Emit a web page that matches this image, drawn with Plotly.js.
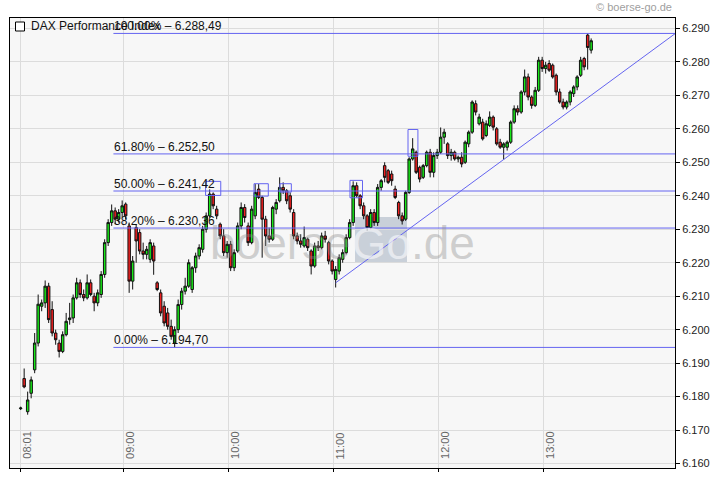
<!DOCTYPE html>
<html><head><meta charset="utf-8">
<script src="https://cdn.plot.ly/plotly-3.0.1.min.js"></script>
<style>html,body{margin:0;padding:0;background:#fff}#chart{width:720px;height:481px}</style>
</head><body><div id="chart"></div>
<script>
const day = '2010-10-04 ';
const times = [
'08:01','08:03','08:05','08:07','08:09','08:11','08:13','08:15','08:17','08:19','08:21','08:23','08:25','08:27','08:29','08:31','08:33','08:35','08:37','08:39','08:41','08:43','08:45','08:47','08:49','08:51','08:53','08:55','08:57','08:59',
'09:01','09:03','09:05','09:07','09:09','09:11','09:13','09:15','09:17','09:19','09:21','09:23','09:25','09:27','09:29','09:31','09:33','09:35','09:37','09:39','09:41','09:43','09:45','09:47','09:49','09:51','09:53','09:55','09:57','09:59',
'10:01','10:03','10:05','10:07','10:09','10:11','10:13','10:15','10:17','10:19','10:21','10:23','10:25','10:27','10:29','10:31','10:33','10:35','10:37','10:39','10:41','10:43','10:45','10:47','10:49','10:51','10:53','10:55','10:57','10:59',
'11:01','11:03','11:05','11:07','11:09','11:11','11:13','11:15','11:17','11:19','11:21','11:23','11:25','11:27','11:29','11:31','11:33','11:35','11:37','11:39','11:41','11:43','11:45','11:47','11:49','11:51','11:53','11:55','11:57','11:59',
'12:01','12:03','12:05','12:07','12:09','12:11','12:13','12:15','12:17','12:19','12:21','12:23','12:25','12:27','12:29','12:31','12:33','12:35','12:37','12:39','12:41','12:43','12:45','12:47','12:49','12:51','12:53','12:55','12:57','12:59',
'13:01','13:03','13:05','13:07','13:09','13:11','13:13','13:15','13:17','13:19','13:21','13:23','13:25','13:27'];
const open = [
6176.4,6185.4,6175.5,6181,6188,6196,6207,6208,6213,6206,6199,6196,6193.5,6198.5,6203,6203.5,6209.5,6214,6210.5,6209.5,6214,6210,6208,6210.5,6216.5,6226,6232,6235.5,6233,6235,
6237.5,6231,6214.5,6230.5,6229,6223.5,6222.5,6221,6225,6214,6211,6207,6205,6201,6196,6200,6207.5,6211.5,6213,6212,6218.5,6222,6224,6230,6234,6240.5,6236,6231.5,6228,6223,
6225.5,6218.5,6223.5,6231,6236.5,6231,6226,6234,6242,6239.5,6233,6228,6227,6236,6238.5,6242.5,6241.5,6240,6235,6228,6226.5,6225,6227,6223.5,6219,6225,6224.5,6228,6226,6220.5,
6215,6217.5,6221,6223,6227.5,6232,6243,6240,6237,6234,6230.5,6235,6232,6242.5,6249,6247.5,6246.5,6242,6238,6234,6233,6241,6251,6253,6248.5,6245.5,6249,6253,6247,6252,
6253,6257.5,6255.5,6252,6253,6251,6251.5,6250,6255.5,6259,6267.5,6261.5,6262,6258,6261,6263.5,6260,6256,6254.5,6254.5,6256,6262,6266,6265,6271,6275.5,6269.5,6267,6271.5,6280.5,
6278,6279.5,6279,6276,6271,6268,6266.5,6268,6270.5,6272.5,6276,6281,6288,6283.5];
const high = [
6177,6188.4,6181.5,6186,6199,6210.5,6209,6214.7,6214,6208.5,6200,6197,6199.5,6205,6208,6210.5,6215.5,6215,6212,6216.5,6215,6211,6212,6217.5,6227,6233,6237.4,6236.5,6236,6238.6,
6238,6232,6222,6231.5,6230,6226,6225,6227,6226,6214.5,6212,6208.5,6206.5,6203,6201,6209,6212.5,6215.5,6221,6219,6223,6225.5,6231,6235,6241.9,6241,6237,6232,6230,6226.5,
6226.5,6224,6232,6238,6237.5,6232,6237,6243.5,6243.5,6240,6234,6230.5,6237,6239,6245.5,6244,6242,6241,6236,6229,6228.5,6230.8,6227.5,6224,6226,6226.5,6229,6229.5,6226.5,6221,
6219,6222.5,6224,6228.5,6233,6244.3,6244,6240.5,6238,6234.5,6236,6236,6243.5,6245,6250,6248,6247.5,6243,6238.5,6235,6241.5,6251.5,6257.2,6253.5,6249,6249.5,6253.5,6254,6253,6254,
6260.4,6260,6256,6254,6253.5,6252,6253,6256.5,6259.5,6268.5,6268.5,6264.5,6263,6262.5,6265.2,6264,6260.5,6257,6256,6256.5,6262.5,6267,6267,6271.5,6277.7,6276.5,6270,6272.5,6281.5,6281.5,
6280,6280.5,6279.5,6276.5,6272,6269,6268.5,6271.5,6273,6276,6281.5,6281.5,6288.5,6287];
const low = [
6176,6182.5,6174.6,6179.5,6187,6195,6205.5,6206.5,6202,6198,6195.5,6191.7,6193,6198,6201.5,6202,6209,6209.5,6208.5,6209,6210,6205.5,6207,6209.5,6215.5,6225,6231,6231.5,6232,6233.5,
6233,6211,6212,6220,6222.5,6221,6221,6220,6216.4,6211.5,6204,6201,6200,6197,6194.7,6199,6206,6210.5,6212.5,6211,6217,6221,6223,6229,6233.5,6236,6233,6227,6222,6221.5,
6217.5,6217.5,6223,6230,6232,6225,6225.5,6233,6239,6221.5,6225,6226,6226.5,6234.5,6238,6240.5,6237.5,6235,6227,6225.5,6224.5,6224.5,6223.5,6216.5,6218.5,6223.5,6224,6226,6219.5,6216.5,
6212.6,6216.5,6220,6222.5,6227,6231,6239.5,6236,6233,6229.5,6230,6231,6231,6241.5,6244,6243.5,6243,6239,6233,6231.4,6232.5,6240.5,6250.5,6246.5,6244,6245,6248.5,6245.5,6245.5,6251,
6252.5,6255.5,6251,6250.5,6250.5,6250,6248.5,6249.5,6254.5,6258.5,6264,6261,6256.5,6257.5,6260.5,6259.5,6255,6254,6250.8,6253.5,6255.5,6261.5,6264,6264.5,6270,6268.5,6266,6266.5,6271,6277,
6276.5,6277,6275,6270,6267.5,6265.8,6265.8,6267,6269.5,6271.5,6275.5,6277.5,6277.7,6282.5];
const close = [
6176.6,6182.9,6179,6185,6196,6207.6,6208,6213,6203,6199,6197,6193.5,6198.5,6202.5,6203.5,6209.5,6214,6210.5,6209.5,6214,6210.5,6208,6211,6216.5,6226,6232,6235.5,6233,6235,6237,
6234,6214.5,6220.5,6226.5,6223.5,6222.5,6224,6226,6220.5,6212,6205,6202,6201,6198,6200,6207.5,6211.5,6213,6220,6218.5,6222,6224.5,6230,6234,6240.5,6237,6234,6228,6223,6225.5,
6218.5,6223,6231,6236.5,6233.5,6226,6236,6241,6239.5,6233,6228,6227,6236.5,6238,6242.5,6241.5,6238.5,6236,6228,6226.5,6225.5,6227.5,6224.5,6219,6225,6224.5,6228,6227,6220.5,6217.5,
6218,6221.5,6223,6227.5,6232,6243,6240,6237,6234,6230.5,6235,6232,6242.5,6244.5,6245.5,6244,6244.5,6239.5,6234,6232.5,6241,6251,6254,6247,6245,6249,6253,6247,6252,6253,
6257.5,6259,6252,6253,6251,6251.5,6249.5,6256,6259,6268,6265,6263.5,6257,6261.5,6263.5,6260.5,6255.5,6254.5,6255.5,6256,6262,6266,6265,6271,6275.5,6269.5,6267,6271.5,6280.5,6278,
6279,6277.5,6275.5,6271,6268,6266.5,6268,6271,6272.5,6275.5,6280.5,6278.5,6284.3,6286.3];

const tickTimes = ['08:01','09:00','10:00','11:00','12:00','13:00'];
const fibPct = ['100.00%','61.80%','50.00%','38.20%','0.00%'];
const fibVal = [6288.49, 6252.50, 6241.42, 6230.36, 6194.70];
const fibStart = '08:54';
const trendTime = ['11:01', '14:14:54'];
const trendVal = [6214.0, 6288.4];
const boxStart = ['09:46:40','10:14:20','10:29:10','11:09:10','11:42:20'];
const boxEnd   = ['09:55:20','10:22:30','10:35:40','11:16:20','11:48:00'];
const boxLow   = [6240.1, 6239.9, 6241.1, 6239.4, 6251.8];
const boxHigh  = [6244.3, 6243.6, 6243.6, 6244.6, 6259.8];

function deNum(v){ const p = v.toFixed(2).split('.'); return p[0].replace(/\B(?=(\d{3})+(?!\d))/g,'.') + ',' + p[1]; }

const X = t => day + t;
const xEnd = X('14:14:54');
const blue = '#6464f0';
const FONT = 'Liberation Sans, Arial, sans-serif';

const trace = {
  type:'candlestick',
  x: times.map(X), open: open, high: high, low: low, close: close,
  increasing:{line:{color:'#111', width:1}, fillcolor:'#18e818'},
  decreasing:{line:{color:'#111', width:1}, fillcolor:'#f02020'},
  whiskerwidth:0, hoverinfo:'skip'
};

const shapes = [];
const annotations = [];

// watermark box (below traces)
shapes.push({type:'rect', xref:'paper', yref:'paper', layer:'below',
  x0:(355-10)/665, x1:(407-10)/665, y0:(468-262)/450, y1:(468-217)/450,
  line:{width:0}, fillcolor:'#c9d0d9'});

fibVal.forEach((v,i)=>{
  shapes.push({type:'line', xref:'x', yref:'y', x0:X(fibStart), x1:xEnd, y0:v, y1:v, line:{color:blue, width:1}});
  annotations.push({xref:'x', yref:'y', x:X(fibStart), y:v, xanchor:'left', yanchor:'bottom', yshift:-2, xshift:-1,
    text: fibPct[i] + ' – ' + deNum(v), showarrow:false, font:{family:FONT, size:12, color:'#111'}});
});
shapes.push({type:'line', xref:'x', yref:'y', x0:X(trendTime[0]), x1:X(trendTime[1]), y0:trendVal[0], y1:trendVal[1], line:{color:blue, width:1}});
boxStart.forEach((s,i)=>{
  shapes.push({type:'rect', xref:'x', yref:'y', x0:X(s), x1:X(boxEnd[i]), y0:boxLow[i], y1:boxHigh[i], line:{color:blue, width:1}, fillcolor:'rgba(0,0,0,0)'});
});
// legend square
shapes.push({type:'rect', xref:'paper', yref:'paper', x0:(15.5-10)/665, x1:(24.5-10)/665, y0:(468-31)/450, y1:(468-22)/450, line:{color:'#000', width:1}, fillcolor:'#fff'});

annotations.push({xref:'paper', yref:'paper', x:(29-10)/665, y:(468-26.5)/450, xanchor:'left', yanchor:'middle', showarrow:false,
  text:'DAX Performance Index', font:{family:FONT, size:12, color:'#111'}});
annotations.push({xref:'paper', yref:'paper', x:(674-10)/665, y:(468-7)/450, xanchor:'right', yanchor:'middle', showarrow:false,
  text:'© boerse-go.de', font:{family:FONT, size:11, color:'#a0a0a0'}});

tickTimes.forEach(t=>{
  annotations.push({xref:'x', yref:'paper', x:X(t), y:(468-461)/450, xanchor:'center', yanchor:'bottom', xshift:6, textangle:-90,
    showarrow:false, text:t, font:{family:FONT, size:11, color:'#666'}});
});

// watermark text
annotations.push({xref:'paper', yref:'paper', x:(353-10)/665, y:(468-243)/450, xanchor:'right', yanchor:'middle', showarrow:false,
  text:'boerse', font:{family:FONT, size:46, color:'rgba(140,140,140,0.38)'}});
annotations.push({xref:'paper', yref:'paper', x:(381-10)/665, y:(468-243)/450, xanchor:'center', yanchor:'middle', showarrow:false,
  text:'Go', font:{family:FONT, size:44, color:'rgba(240,242,246,0.75)'}});
annotations.push({xref:'paper', yref:'paper', x:(409-10)/665, y:(468-243)/450, xanchor:'left', yanchor:'middle', showarrow:false,
  text:'.de', font:{family:FONT, size:46, color:'rgba(140,140,140,0.38)'}});

const layout = {
  width:720, height:481,
  margin:{l:10, r:45, t:18, b:13, pad:0},
  paper_bgcolor:'#ffffff', plot_bgcolor:'#f7f7f7',
  separators:',.',
  showlegend:false,
  boxgap:0.0,
  font:{family:FONT, size:11, color:'#222'},
  xaxis:{type:'date', range:[X('07:54:54'), xEnd], rangeslider:{visible:false},
    tickmode:'array', tickvals:tickTimes.map(X), showticklabels:false,
    ticks:'outside', ticklen:3, tickcolor:'#000',
    showgrid:true, gridcolor:'#dcdcdc', gridwidth:1,
    showline:true, linecolor:'#000', linewidth:1, mirror:true, zeroline:false},
  yaxis:{side:'right', range:[6158.68, 6293.1], tick0:6160, dtick:10, tickformat:',d',
    ticks:'outside', ticklen:4, tickcolor:'#000',
    showgrid:true, gridcolor:'#dcdcdc', gridwidth:1,
    showline:true, linecolor:'#000', linewidth:1, mirror:true, zeroline:false,
    tickfont:{family:FONT, size:11, color:'#222'}},
  shapes:shapes, annotations:annotations
};
Plotly.newPlot('chart', [trace], layout, {staticPlot:true, displayModeBar:false});
</script></body></html>
